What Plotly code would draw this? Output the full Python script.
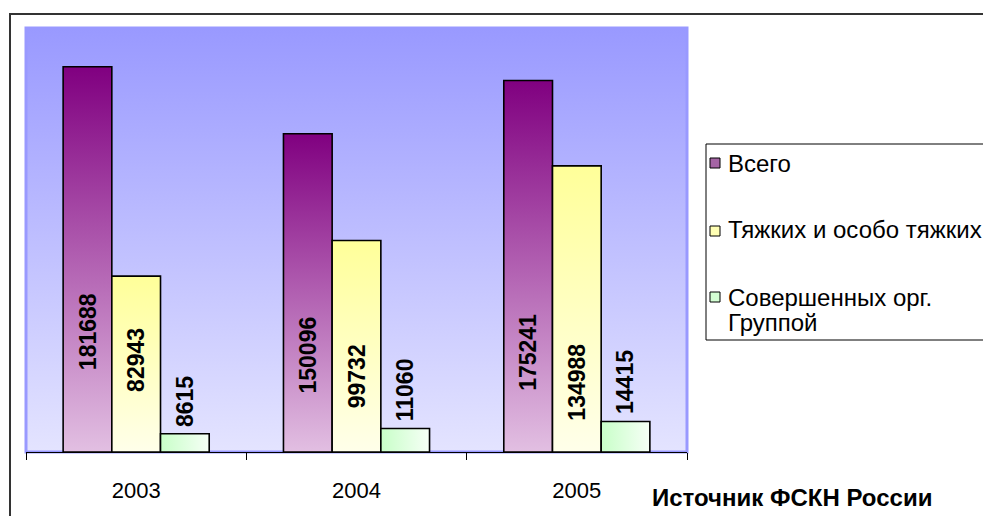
import base64
import plotly.graph_objects as go

# ---------------- data ----------------
years = ["2003", "2004", "2005"]
total = [181688, 150096, 175241]
grave = [82943, 99732, 134988]
group = [8615, 11060, 14415]
series_names = ["Всего", "Тяжких и особо тяжких", "Совершенных орг.<br>Группой"]
source_text = "Источник ФСКН России"

# ---------------- styles ----------------
FONT = "Liberation Sans, Arial, sans-serif"
BAR_W = 0.221
W, H = 983, 516
L, R, T, B = 26, 296, 28, 64
pw, ph = W - L - R, H - T - B
series_values = [total, grave, group]
gradients = [
    dict(type="vertical", colorscale=[[0, "#e2bfe2"], [1, "#800080"]]),
    dict(type="vertical", colorscale=[[0, "#ffffea"], [1, "#ffff99"]]),
    dict(type="horizontal", colorscale=[[0, "#c8ffc8"], [1, "#f6fff6"]]),
]
fallback = ["#b060b0", "#ffffc0", "#e0ffe0"]
legend_swatch = ["#a464a4", "#ffffb4", "#d4ffd4"]
# label centre heights (axis units) for the first two series; third sits on top of bars
label_centres = [[56760, 45880, 46830], [43520, 35480, 33110], None]


def px_x(px):
    return (px - L) / pw


def px_y(py):
    return (H - B - py) / ph


fig = go.Figure()
annotations = []
for s, vals in enumerate(series_values):
    for i, v in enumerate(vals):
        xc = i + (s - 1) * BAR_W
        x0, x1 = xc - BAR_W / 2, xc + BAR_W / 2
        fig.add_trace(go.Scatter(
            x=[x0, x0, x1, x1, x0], y=[0, v, v, 0, 0],
            mode="lines", fill="toself",
            fillcolor=fallback[s], fillgradient=gradients[s],
            line=dict(color="black", width=1.6),
            name=series_names[s].replace("<br>", " "), legendgroup=str(s),
            showlegend=False, hoverinfo="skip",
        ))
        if label_centres[s] is not None:
            annotations.append(dict(
                x=xc, y=label_centres[s][i], xref="x", yref="y",
                text=f"<b>{v}</b>", showarrow=False, textangle=-90,
                xanchor="center", yanchor="middle",
                font=dict(family=FONT, size=23, color="black")))
        else:
            annotations.append(dict(
                x=xc, y=v, xref="x", yref="y",
                text=f"<b>{v}</b>", showarrow=False, textangle=-90,
                xanchor="center", yanchor="bottom", yshift=5,
                font=dict(family=FONT, size=23, color="black")))

# source note
annotations.append(dict(
    x=px_x(792), y=px_y(497), xref="paper", yref="paper",
    text=f"<b>{source_text}</b>", showarrow=False,
    xanchor="center", yanchor="middle",
    font=dict(family=FONT, size=24, color="black")))


def open_path(x_left, y_top, y_bottom, x_right):
    """left + top (+ optional bottom) edges of a box running off the right edge"""
    p = f"M {px_x(x_right)},{px_y(y_top)} L {px_x(x_left)},{px_y(y_top)} L {px_x(x_left)},{px_y(y_bottom)}"
    return p


# legend (box, swatches, texts)
legend_swatch_y = [163, 231, 297]
legend_lines = [[("Всего", 163)], [("Тяжких и особо тяжких", 229)],
                [("Совершенных орг.", 297), ("Группой", 322)]]
shapes = [
    dict(type="rect", xref="paper", yref="paper", x0=0, x1=1, y0=0, y1=1,
         line=dict(color="#9999ff", width=3), layer="below"),
    # outer frame (runs off the right and bottom edges)
    dict(type="path", xref="paper", yref="paper",
         path=open_path(10, 14, H + 5, W + 5), line=dict(color="#333333", width=2)),
    # legend box (runs off the right edge)
    dict(type="path", xref="paper", yref="paper",
         path=(f"M {px_x(W + 5)},{px_y(144)} L {px_x(706)},{px_y(144)} "
               f"L {px_x(706)},{px_y(340)} L {px_x(W + 5)},{px_y(340)}"),
         line=dict(color="black", width=1)),
]
for s in range(3):
    cy = legend_swatch_y[s]
    shapes.append(dict(type="rect", xref="paper", yref="paper",
                       x0=px_x(710), x1=px_x(720), y0=px_y(cy + 5), y1=px_y(cy - 5),
                       line=dict(color="black", width=1), fillcolor=legend_swatch[s]))
    for txt, ty in legend_lines[s]:
        annotations.append(dict(
            x=px_x(726), y=px_y(ty), xref="paper", yref="paper",
            text=txt, showarrow=False, xanchor="left", yanchor="middle",
            align="left", font=dict(family=FONT, size=24, color="black")))

svg = ('<svg xmlns="http://www.w3.org/2000/svg" width="10" height="100" viewBox="0 0 10 100" '
       'preserveAspectRatio="none"><defs><linearGradient id="g" x1="0" y1="0" x2="0" y2="1">'
       '<stop offset="0" stop-color="#9999ff"/><stop offset="1" stop-color="#e4e4ff"/>'
       '</linearGradient></defs><rect width="10" height="100" fill="url(#g)"/></svg>')
bg_src = "data:image/svg+xml;base64," + base64.b64encode(svg.encode()).decode()

fig.update_layout(
    width=W, height=H,
    margin=dict(l=L, r=R, t=T, b=B),
    paper_bgcolor="white", plot_bgcolor="rgba(0,0,0,0)",
    images=[dict(source=bg_src, xref="paper", yref="paper", x=0, y=1, sizex=1, sizey=1,
                 xanchor="left", yanchor="top", sizing="stretch", layer="below")],
    shapes=shapes,
    annotations=annotations,
    showlegend=False,
    xaxis=dict(range=[-0.5, 2.5], tickvals=[0, 1, 2], ticktext=years, ticks="",
               showgrid=False, zeroline=False, showline=True, linecolor="black", linewidth=1,
               tickfont=dict(family=FONT, size=22, color="black"), ticklabelstandoff=19,
               minor=dict(tickvals=[-0.5, 0.5, 1.5, 2.5], ticks="outside", ticklen=7,
                          tickcolor="black", tickwidth=1, showgrid=False),
               fixedrange=True),
    yaxis=dict(range=[0, 200000], visible=False, fixedrange=True),
)

fig.write_html("out.html", config={"displayModeBar": False},
               post_script="document.body.style.margin='0px';")
